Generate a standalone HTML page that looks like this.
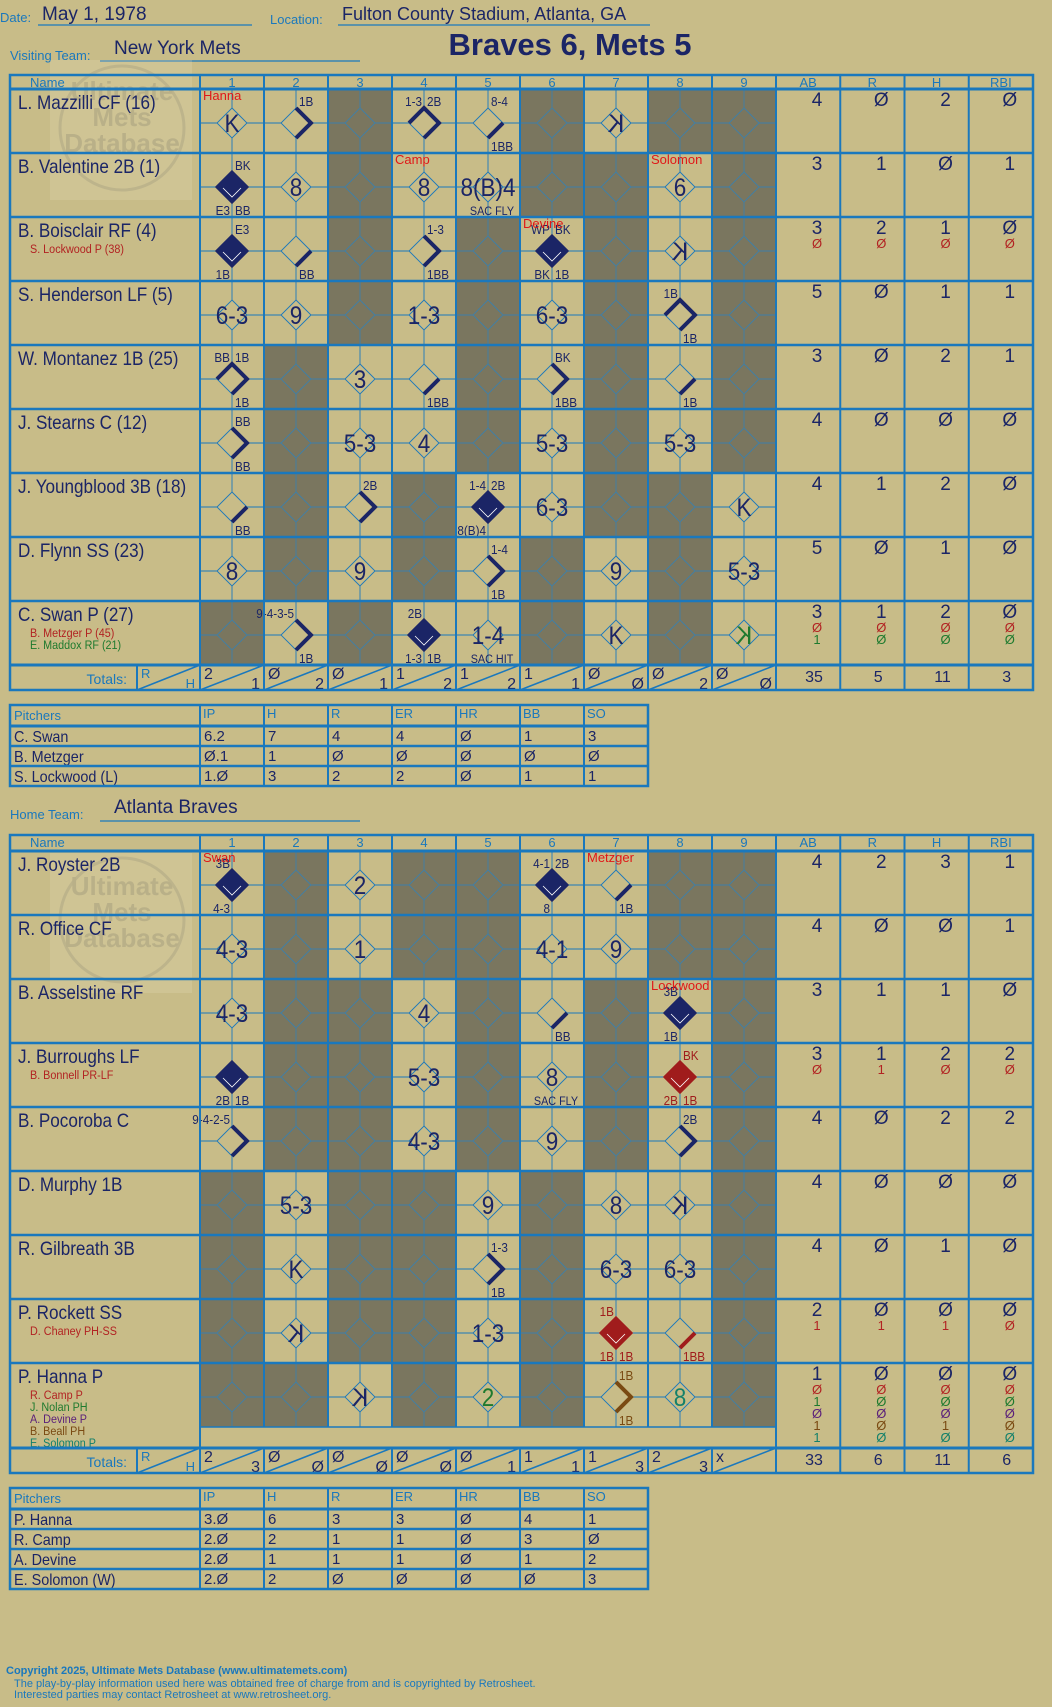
<!DOCTYPE html>
<html><head><meta charset="utf-8">
<style>
html,body{margin:0;padding:0;background:#c8bc88;}
svg{display:block;}
text{font-family:"Liberation Sans Narrow","Liberation Sans",sans-serif;}
.lbl{fill:#1a78bd;font-size:13px;}
.hw{fill:#1b2566;}
</style></head>
<body>
<svg id="card" width="1052" height="1707" viewBox="0 0 1052 1707" xmlns="http://www.w3.org/2000/svg">
<rect x="0" y="0" width="1052" height="1707" fill="#c8bc88"/>
<g>
<text x="0" y="22" class="lbl">Date:</text>
<text x="42" y="20" class="hw" font-size="19">May 1, 1978</text>
<line x1="38" y1="25" x2="252" y2="25" stroke="#1a78bd" stroke-width="1.2"/>
<text x="270" y="24" class="lbl">Location:</text>
<text x="342" y="20" class="hw" font-size="18">Fulton County Stadium, Atlanta, GA</text>
<line x1="338" y1="25" x2="650" y2="25" stroke="#1a78bd" stroke-width="1.2"/>
<text x="570" y="55" class="hw" font-size="31" font-weight="bold" text-anchor="middle">Braves 6, Mets 5</text>
<text x="10" y="60" class="lbl">Visiting Team:</text>
<text x="114" y="54" class="hw" font-size="19">New York Mets</text>
<line x1="100" y1="61" x2="360" y2="61" stroke="#1a78bd" stroke-width="1.2"/>
<text x="10" y="819" class="lbl">Home Team:</text>
<text x="114" y="813" class="hw" font-size="19">Atlanta Braves</text>
<line x1="100" y1="821" x2="360" y2="821" stroke="#1a78bd" stroke-width="1.2"/>
</g>
<g opacity="0.22">
<rect x="50" y="60" width="142" height="140" fill="#e8e0c0"/>
<circle cx="122" cy="128" r="62" fill="none" stroke="#999" stroke-width="3"/>
<text x="122" y="100" font-size="26" font-weight="bold" fill="#888" text-anchor="middle">Ultimate</text>
<text x="122" y="126" font-size="26" font-weight="bold" fill="#888" text-anchor="middle">Mets</text>
<text x="122" y="152" font-size="26" font-weight="bold" fill="#888" text-anchor="middle">Database</text>
</g>
<g opacity="0.22">
<rect x="50" y="853" width="142" height="140" fill="#e8e0c0"/>
<circle cx="122" cy="920" r="62" fill="none" stroke="#999" stroke-width="3"/>
<text x="122" y="895" font-size="26" font-weight="bold" fill="#888" text-anchor="middle">Ultimate</text>
<text x="122" y="921" font-size="26" font-weight="bold" fill="#888" text-anchor="middle">Mets</text>
<text x="122" y="947" font-size="26" font-weight="bold" fill="#888" text-anchor="middle">Database</text>
</g>
<g id="layer"></g>
<g>
<text x="6" y="1674" fill="#1a78bd" font-size="11" font-weight="bold">Copyright 2025, Ultimate Mets Database (www.ultimatemets.com)</text>
<text x="14" y="1687" fill="#1a78bd" font-size="11">The play-by-play information used here was obtained free of charge from and is copyrighted by Retrosheet.</text>
<text x="14" y="1698" fill="#1a78bd" font-size="11">Interested parties may contact Retrosheet at www.retrosheet.org.</text>
</g>
</svg>
<script>
// ---------- DATA ----------
const innings = ['1','2','3','4','5','6','7','8','9'];
const statHeaders = ['AB','R','H','RBI'];
const pitchHeaders = ['IP','H','R','ER','HR','BB','SO'];

const visBatters = ['L. Mazzilli CF (16)','B. Valentine 2B (1)','B. Boisclair RF (4)','S. Henderson LF (5)','W. Montanez 1B (25)','J. Stearns C (12)','J. Youngblood 3B (18)','D. Flynn SS (23)','C. Swan P (27)'];
const visSubs = [[],[],[['S. Lockwood P (38)','#b22222']],[],[],[],[],[],[['B. Metzger P (45)','#b22222'],['E. Maddox RF (21)','#1e7a2e']]];
const visShade = ['3689','3679','3579','3579','2579','2579','2478','2468','1368'];
const visStats = [[4,0,2,0],[3,1,0,1],[3,2,1,0],[5,0,1,1],[3,0,2,1],[4,0,0,0],[4,1,2,0],[5,0,1,0],[3,1,2,0]];
const visSubStats = [[],[],[[0,0,0,0]],[],[],[],[],[],[[0,0,0,0],[1,0,0,0]]];
const visPlays = [
 {1:{m:'K',pc:'Hanna'},2:{tr:'1B',p:2},4:{tl:'1-3',tr:'2B',p:3},5:{tr:'8-4',br:'1BB',p:1},7:{m:'K',f:1}},
 {1:{tr:'BK',bl:'E3',br:'BB',p:4},2:{m:'8'},4:{m:'8',pc:'Camp'},5:{m:'8(B)4',b:'SAC FLY'},8:{m:'6',pc:'Solomon'}},
 {1:{tr:'E3',bl:'1B',p:4},2:{br:'BB',p:1},4:{tr:'1-3',br:'1BB',p:2},6:{pc:'Devine',tl:'WP',tr:'BK',bl:'BK',br:'1B',p:4},8:{m:'K',f:1}},
 {1:{m:'6-3'},2:{m:'9'},4:{m:'1-3'},6:{m:'6-3'},8:{tl:'1B',br:'1B',p:3}},
 {1:{tl:'BB',tr:'1B',br:'1B',p:3},3:{m:'3'},4:{br:'1BB',p:1},6:{tr:'BK',br:'1BB',p:2},8:{br:'1B',p:1}},
 {1:{tr:'BB',br:'BB',p:2},3:{m:'5-3'},4:{m:'4'},6:{m:'5-3'},8:{m:'5-3'}},
 {1:{br:'BB',p:1},3:{tr:'2B',p:2},5:{tl:'1-4',tr:'2B',bl:'8(B)4',p:4},6:{m:'6-3'},9:{m:'K'}},
 {1:{m:'8'},3:{m:'9'},5:{tr:'1-4',br:'1B',p:2},7:{m:'9'},9:{m:'5-3'}},
 {2:{tl:'9-4-3-5',br:'1B',p:2},4:{tl:'2B',bl:'1-3',br:'1B',p:4},5:{m:'1-4',b:'SAC HIT'},7:{m:'K'},9:{m:'K',f:1,c:'#1e7a2e'}}
];
const visRuns = ['2','Ø','Ø','1','1','1','Ø','Ø','Ø'];
const visHits = ['1','2','1','2','2','1','Ø','2','Ø'];
const visTotals = [35,5,11,3];
const visPitchers = ['C. Swan','B. Metzger','S. Lockwood (L)'];
const visPitchLines = [['6.2','7','4','4','Ø','1','3'],['Ø.1','1','Ø','Ø','Ø','Ø','Ø'],['1.Ø','3','2','2','Ø','1','1']];

const homeBatters = ['J. Royster 2B','R. Office CF','B. Asselstine RF','J. Burroughs LF','B. Pocoroba C','D. Murphy 1B','R. Gilbreath 3B','P. Rockett SS','P. Hanna P'];
const homeSubs = [[],[],[],[['B. Bonnell PR-LF','#b22222']],[],[],[],[['D. Chaney PH-SS','#b22222']],[['R. Camp P','#b22222'],['J. Nolan PH','#1e7a2e'],['A. Devine P','#5a1f7a'],['B. Beall PH','#7a4a12'],['E. Solomon P','#13806a']]];
const homeShade = ['24589','24589','23579','23579','23579','13469','13469','13469','12469'];
const homeStats = [[4,2,3,1],[4,0,0,1],[3,1,1,0],[3,1,2,2],[4,0,2,2],[4,0,0,0],[4,0,1,0],[2,0,0,0],[1,0,0,0]];
const homeSubStats = [[],[],[],[[0,1,0,0]],[],[],[],[[1,1,1,0]],[[0,0,0,0],[1,0,0,0],[0,0,0,0],[1,0,1,0],[1,0,0,0]]];
const homePlays = [
 {1:{pc:'Swan',tl:'3B',bl:'4-3',p:4},3:{m:'2'},6:{tl:'4-1',tr:'2B',bl:'8',p:4},7:{pc:'Metzger',br:'1B',p:1}},
 {1:{m:'4-3'},3:{m:'1'},6:{m:'4-1'},7:{m:'9'}},
 {1:{m:'4-3'},4:{m:'4'},6:{br:'BB',p:1},8:{pc:'Lockwood',tl:'3B',bl:'1B',p:4}},
 {1:{bl:'2B',br:'1B',p:4},4:{m:'5-3'},6:{m:'8',b:'SAC FLY'},8:{tr:'BK',bl:'2B',br:'1B',p:4,c:'#a01c1c'}},
 {1:{tl:'9-4-2-5',p:2},4:{m:'4-3'},6:{m:'9'},8:{tr:'2B',p:2}},
 {2:{m:'5-3'},5:{m:'9'},7:{m:'8'},8:{m:'K',f:1}},
 {2:{m:'K'},5:{tr:'1-3',br:'1B',p:2},7:{m:'6-3'},8:{m:'6-3'}},
 {2:{m:'K',f:1},5:{m:'1-3'},7:{tl:'1B',bl:'1B',br:'1B',p:4,c:'#a01c1c'},8:{br:'1BB',p:1,c:'#a01c1c'}},
 {3:{m:'K',f:1},5:{m:'2',c:'#1e7a2e'},7:{tr:'1B',br:'1B',p:2,c:'#7a4a12'},8:{m:'8',c:'#13806a'}}
];
const homeRuns = ['2','Ø','Ø','Ø','Ø','1','1','2','x'];
const homeHits = ['3','Ø','Ø','Ø','1','1','3','3',''];
const homeTotals = [33,6,11,6];
const homePitchers = ['P. Hanna','R. Camp','A. Devine','E. Solomon (W)'];
const homePitchLines = [['3.Ø','6','3','3','Ø','4','1'],['2.Ø','2','1','1','Ø','3','Ø'],['2.Ø','1','1','1','Ø','1','2'],['2.Ø','2','Ø','Ø','Ø','Ø','3']];

// ---------- DRAWING ----------
const NS='http://www.w3.org/2000/svg';
const layer=document.getElementById('layer');
const BLUE='#1a78bd', NAVY='#1b2566', DARK='#7a765f', TAN='#c8bc88';
const X0=10, NAMEW=190, INW=64, STW=64.25;
function inX(i){return X0+NAMEW+INW*i;}
function stX(j){return X0+NAMEW+INW*9+STW*j;}
const XEND=stX(4);
function mk(tag,attrs,parent){const e=document.createElementNS(NS,tag);for(const k in attrs)e.setAttribute(k,attrs[k]);(parent||layer).appendChild(e);return e;}
function txt(s,x,y,size,fill,anchor,parent){const t=mk('text',{x:x,y:y,'font-size':size,fill:fill,'text-anchor':anchor||'start'},parent);t.textContent=s;return t;}
function narrow(t,x,k){t.setAttribute('transform',`translate(${x*(1-k)},0) scale(${k},1)`);}
function zero(v){return v===0?'Ø':String(v);}

function drawCell(g,i,top,h,shaded,play){
  const x=inX(i), cx=x+INW/2, cy=top+34;
  if(shaded) mk('rect',{x:x,y:top,width:INW,height:h,fill:DARK},g);
  const lc=shaded?'#3f7fa8':BLUE;
  mk('line',{x1:cx,y1:top,x2:cx,y2:top+h,stroke:lc,'stroke-width':0.9},g);
  mk('line',{x1:x,y1:cy,x2:x+INW,y2:cy,stroke:lc,'stroke-width':0.9},g);
  const d=15;
  const dm=mk('polygon',{points:`${cx},${cy-d} ${cx+d},${cy} ${cx},${cy+d} ${cx-d},${cy}`,fill:shaded?DARK:TAN,stroke:lc,'stroke-width':0.9},g);
  if(!play) return;
  const col=play.c||NAVY;
  if(play.p===4){
    dm.setAttribute('fill',col);dm.setAttribute('stroke',col);dm.setAttribute('stroke-width',3);
    mk('polyline',{points:`${cx-9},${cy+1} ${cx},${cy+10} ${cx+9},${cy+1}`,fill:'none',stroke:'#fff','stroke-width':0.8},g);
  } else if(play.p){
    const pts=[[cx,cy+d],[cx+d,cy],[cx,cy-d],[cx-d,cy]];
    let s=[];for(let k=0;k<=play.p;k++)s.push(pts[k%4].join(','));
    mk('polyline',{points:s.join(' '),fill:'none',stroke:col,'stroke-width':4},g);
  }
  if(play.m){
    const t=txt(play.m,cx,cy+9,25,col,'middle',g);
    if(play.f) t.setAttribute('transform',`translate(${2*cx},0) scale(-1,1)`);
    else narrow(t,cx,0.9);
  }
  if(play.tl) narrow(txt(play.tl,cx-2,cy-17,13,col,'end',g),cx-2,0.9);
  if(play.tr) narrow(txt(play.tr,cx+3,cy-17,13,col,'start',g),cx+3,0.9);
  if(play.bl) narrow(txt(play.bl,cx-2,cy+28,13,col,'end',g),cx-2,0.9);
  if(play.br) narrow(txt(play.br,cx+3,cy+28,13,col,'start',g),cx+3,0.9);
  if(play.b) narrow(txt(play.b,cx+4,cy+28,12,col,'middle',g),cx+4,0.9);
  if(play.pc) txt(play.pc,x+3,top+11,13,'#e01818','start',g);
}

function drawGrid(name,hTop,rTop,batters,subs,shade,stats,subStats,plays,runs,hits,totals,lastExtra){
  const g=mk('g',{});
  
  
  const rows=batters.length, RH=64;
  const tTop=rTop+RH*rows+lastExtra, tBot=tTop+25;
  const hg=mk('g',{},g);
  
  
  txt('Name',X0+20,hTop+12,13,BLUE,'start',hg);
  innings.forEach((s,i)=>txt(s,inX(i)+INW/2,hTop+12,13,BLUE,'middle',hg));
  statHeaders.forEach((s,j)=>txt(s,stX(j)+STW/2,hTop+12,13,BLUE,'middle',hg));
  for(let r=0;r<rows;r++){
    const top=rTop+RH*r, h=RH+(r===rows-1?lastExtra:0);
    const rg=mk('g',{},g);
    
    
    const nm=txt(batters[r],X0+8,top+20,19,NAVY,'start',rg);
    narrow(nm,X0+8,0.9);
    
    
    subs[r].forEach((s,k)=>narrow(txt(s[0],X0+20,top+36+12*k,12,s[1],'start',rg),X0+20,0.9));
    for(let i=0;i<9;i++){
      const cg=mk('g',{},rg);
      
      
      drawCell(cg,i,top,RH,shade[r].indexOf(String(i+1))>=0,plays[r][i+1]);
    }
    stats[r].forEach((v,j)=>txt(zero(v),stX(j)+41,top+17,19,NAVY,'middle',rg));
    subStats[r].forEach((arr,k)=>{arr.forEach((v,j)=>txt(zero(v),stX(j)+41,top+31+12*k,13,subs[r][k][1],'middle',rg));});
  }
  const tg=mk('g',{},g);
  
  
  txt('Totals:',X0+117,tTop+19,14,BLUE,'end',tg);
  mk('line',{x1:X0+127,y1:tTop,x2:X0+127,y2:tBot,stroke:BLUE,'stroke-width':2},tg);
  mk('line',{x1:X0+127,y1:tBot,x2:X0+NAMEW,y2:tTop,stroke:BLUE,'stroke-width':1.5},tg);
  txt('R',X0+131,tTop+13,13,BLUE,'start',tg);txt('H',X0+185,tTop+23,13,BLUE,'end',tg);
  for(let i=0;i<9;i++){
    const x=inX(i);
    mk('line',{x1:x,y1:tBot,x2:x+INW,y2:tTop,stroke:BLUE,'stroke-width':1.5},tg);
    txt(runs[i],x+4,tTop+14,16,NAVY,'start',tg);
    txt(hits[i],x+INW-4,tTop+24,16,NAVY,'end',tg);
  }
  totals.forEach((v,j)=>txt(String(v),stX(j)+38,tTop+17,16,NAVY,'middle',tg));
  const L=mk('g',{fill:'none',stroke:BLUE},g);
  mk('rect',{x:X0,y:hTop,width:XEND-X0,height:tBot-hTop,'stroke-width':2.5},L);
  mk('line',{x1:X0,y1:rTop,x2:XEND,y2:rTop,'stroke-width':3},L);
  for(let r=1;r<rows;r++) mk('line',{x1:X0,y1:rTop+RH*r,x2:XEND,y2:rTop+RH*r,'stroke-width':2.5},L);
  mk('line',{x1:X0,y1:tTop,x2:XEND,y2:tTop,'stroke-width':3},L);
  if(lastExtra) mk('line',{x1:inX(0),y1:tTop-lastExtra,x2:inX(9),y2:tTop-lastExtra,'stroke-width':1.5},L);
  for(let i=0;i<=9;i++) mk('line',{x1:inX(i),y1:hTop,x2:inX(i),y2:(i===0||i===9)?tBot:(lastExtra?tTop-lastExtra:tBot),'stroke-width':2},L);
  if(lastExtra) for(let i=1;i<9;i++) mk('line',{x1:inX(i),y1:tTop,x2:inX(i),y2:tBot,'stroke-width':2},L);
  for(let j=1;j<4;j++) mk('line',{x1:stX(j),y1:hTop,x2:stX(j),y2:tBot,'stroke-width':2},L);
}

function drawPitchers(name,top,names,lines){
  const g=mk('g',{});
  
  
  const RH=20, HH=21, W=64, x1=X0+NAMEW;
  const bot=top+HH+RH*names.length;
  txt('Pitchers',X0+4,top+15,13,BLUE,'start',g);
  pitchHeaders.forEach((s,i)=>txt(s,x1+i*W+3,top+13,13,BLUE,'start',g));
  names.forEach((n,r)=>{
    const y=top+HH+RH*r;
    narrow(txt(n,X0+4,y+16,16,NAVY,'start',g),X0+4,0.9);
    lines[r].forEach((v,i)=>txt(v,x1+i*W+4,y+15,15,NAVY,'start',g));
  });
  const L=mk('g',{fill:'none',stroke:BLUE},g);
  mk('rect',{x:X0,y:top,width:NAMEW+W*7,height:bot-top,'stroke-width':2.5},L);
  for(let r=0;r<names.length;r++) mk('line',{x1:X0,y1:top+HH+RH*r,x2:X0+NAMEW+W*7,y2:top+HH+RH*r,'stroke-width':r===0?3:2.5},L);
  for(let i=0;i<7;i++) mk('line',{x1:x1+i*W,y1:top,x2:x1+i*W,y2:bot,'stroke-width':2},L);
}

drawGrid('visiting-scorecard-grid',75,89,visBatters,visSubs,visShade,visStats,visSubStats,visPlays,visRuns,visHits,visTotals,0);
drawPitchers('visiting-pitchers-table',705,visPitchers,visPitchLines);
drawGrid('home-scorecard-grid',835,851,homeBatters,homeSubs,homeShade,homeStats,homeSubStats,homePlays,homeRuns,homeHits,homeTotals,21);
drawPitchers('home-pitchers-table',1488,homePitchers,homePitchLines);
</script>
</body></html>
